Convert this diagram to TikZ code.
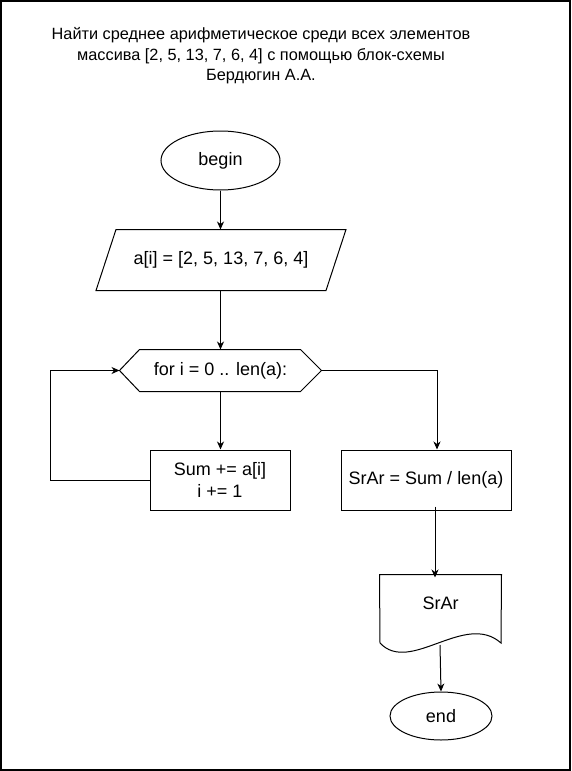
\documentclass[tikz,border=0pt]{standalone}
\usepackage{fontspec}
\setmainfont{Liberation Sans}
\usetikzlibrary{arrows.meta,shapes.geometric}
\begin{document}
\begin{tikzpicture}[x=1pt,y=-1pt,
  line width=1pt,
  every node/.style={inner sep=0pt, font=\fontsize{18}{21.6}\selectfont},
  arrow/.style={-{Stealth[length=8pt,width=7pt,inset=2.5pt]}},
  terminal/.style={ellipse, draw},
  block/.style={rectangle, draw, align=center},
  frame/.style={rectangle, align=center}]
\useasboundingbox (0,0) rectangle (571,771);
\draw[line width=1.5pt] (0.75,0.75) rectangle (570,770);

% heading
\node (title) at (261,56) [align=center, font=\fontsize{16.3}{20.5}\selectfont]
  {Найти среднее арифметическое среди всех элементов\\
   массива [2, 5, 13, 7, 6, 4] с помощью блок-схемы\\
   Бердюгин А.А.};

% start
\node (begin) at (220.5,160.5) [terminal, minimum width=119pt, minimum height=59pt] {begin};

% input array (parallelogram)
\node (data) at (221,260) [frame, minimum width=249pt, minimum height=60pt] {a[i] = [2, 5, 13, 7, 6, 4]};
\draw ([xshift=20pt]data.north west) -- (data.north east)
   -- ([xshift=-20pt]data.south east) -- (data.south west) -- cycle;

% loop header (hexagon)
\node (loop) at (220.5,370.5) [frame, minimum width=201pt, minimum height=41pt] {for i = 0 .. len(a):};
\draw (loop.west) -- ([xshift=20pt]loop.north west) -- ([xshift=-21pt]loop.north east)
   -- (loop.east) -- ([xshift=-21pt]loop.south east) -- ([xshift=20pt]loop.south west) -- cycle;

% loop body
\node (sum) at (220,480) [block, minimum width=140pt, minimum height=60pt] {Sum += a[i]\\i += 1};

% average
\node (srar) at (426,480) [block, minimum width=170pt, minimum height=60pt] {SrAr = Sum / len(a)};

% output (document shape)
\node (out) at (440.5,603) [frame, minimum width=121pt, minimum height=56pt] {SrAr};
\draw (380,643) -- (out.north west) -- (out.north east) -- (501,643)
   .. controls (465,611) and (410,675) .. (380,643);
\coordinate (outfoot) at (440,645);

% finish
\node (end) at (441,716) [terminal, minimum width=102pt, minimum height=48pt] {end};

% connectors
\draw[arrow] (begin.south) -- (data.north -| begin.south);
\draw[arrow] (data.south -| loop.north) -- (loop.north);
\draw[arrow] (loop.south) -- (sum.north -| loop.south);
\coordinate (back) at (50,480);
\draw[arrow] (sum.west) -- (back) |- (loop.west);
\draw[arrow] (loop.east) -| ([xshift=11pt]srar.north);
\draw[arrow] ([xshift=9pt,yshift=4pt]srar.south) -- ([xshift=9pt,yshift=-3pt]srar.south |- out.north);
\draw[arrow] (outfoot) -- (end.north);
\end{tikzpicture}
\end{document}
